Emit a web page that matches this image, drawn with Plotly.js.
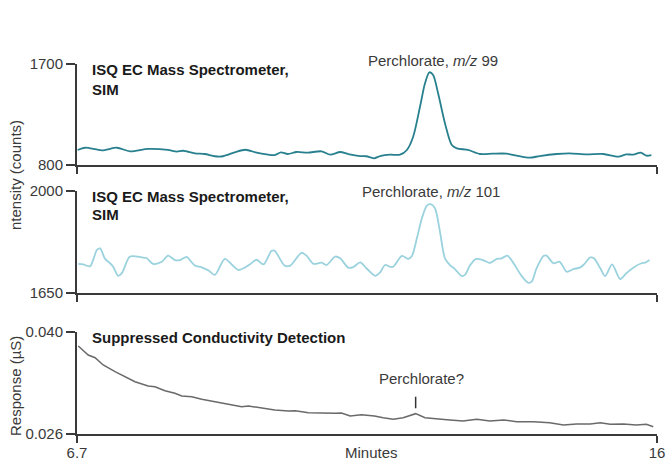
<!DOCTYPE html>
<html>
<head>
<meta charset="utf-8">
<script src="https://cdn.plot.ly/plotly-3.0.1.min.js"></script>
<style>html,body{margin:0;padding:0;background:#fff;}#chart{width:667px;height:461px;}</style>
</head>
<body>
<div id="chart"></div>
<script>
// ---- Data ----
const msTime99 = [6.71,6.83,7.10,7.34,7.55,7.84,8.16,8.30,8.40,8.59,8.75,8.91,9.04,9.23,9.40,9.58,9.74,9.87,9.97,10.08,10.22,10.40,10.62,10.76,10.92,11.05,11.24,11.34,11.46,11.56,11.72,11.88,11.99,12.09,12.20,12.28,12.35,12.41,12.49,12.60,12.71,12.79,12.97,13.16,13.37,13.59,13.75,13.96,14.12,14.39,14.60,14.87,15.14,15.38,15.51,15.62,15.74,15.83,15.91];
const msCounts99 = [934,954,931,954,922,943,934,919,927,904,898,878,878,913,936,910,895,889,913,898,916,910,922,892,916,898,880,878,860,880,892,892,934,1052,1319,1528,1626,1602,1439,1172,978,949,934,898,901,901,883,865,880,898,904,895,898,874,895,892,910,883,889];

const msTime101 = [6.72,6.80,6.91,7.02,7.07,7.15,7.23,7.28,7.36,7.42,7.55,7.74,7.82,7.92,8.06,8.16,8.27,8.35,8.46,8.51,8.59,8.70,8.81,8.91,9.07,9.18,9.29,9.39,9.47,9.58,9.69,9.82,9.87,10.03,10.12,10.30,10.38,10.49,10.62,10.70,10.84,10.92,11.05,11.13,11.24,11.34,11.48,11.56,11.64,11.72,11.77,11.91,12.01,12.07,12.15,12.23,12.31,12.37,12.44,12.52,12.60,12.68,12.76,12.87,12.92,13.00,13.10,13.21,13.32,13.43,13.51,13.60,13.70,13.83,13.94,13.99,14.07,14.18,14.23,14.34,14.44,14.55,14.66,14.76,14.82,14.93,14.99,15.09,15.17,15.28,15.41,15.51,15.62,15.75,15.81,15.88];
const msCounts101 = [1750,1748,1742,1798,1803,1767,1752,1740,1709,1718,1775,1772,1769,1750,1757,1778,1763,1763,1774,1763,1744,1738,1727,1712,1767,1748,1729,1737,1748,1764,1748,1795,1795,1744,1744,1788,1778,1750,1754,1746,1775,1769,1737,1739,1755,1735,1709,1721,1746,1740,1740,1777,1767,1777,1838,1906,1950,1955,1941,1860,1769,1746,1732,1708,1712,1744,1767,1763,1753,1767,1769,1778,1752,1708,1685,1689,1735,1777,1778,1752,1757,1723,1732,1737,1746,1772,1769,1735,1708,1748,1698,1718,1737,1752,1754,1763];

const cdTime = [6.72,6.88,6.99,7.12,7.31,7.47,7.63,7.84,7.95,8.11,8.27,8.38,8.54,8.70,8.91,9.13,9.34,9.45,9.66,9.87,10.09,10.20,10.41,10.62,10.84,10.94,11.08,11.26,11.47,11.61,11.77,11.93,12.13,12.28,12.47,12.68,12.89,13.11,13.32,13.54,13.75,14.02,14.28,14.50,14.71,14.93,15.09,15.25,15.46,15.67,15.83,15.94];
const cdResponse = [0.03808,0.03684,0.03647,0.03547,0.03455,0.03386,0.03318,0.03259,0.03249,0.03194,0.03159,0.03122,0.03112,0.03076,0.03043,0.03012,0.02975,0.02984,0.02953,0.02929,0.02916,0.02920,0.02892,0.02884,0.02884,0.02888,0.02847,0.02865,0.02847,0.02824,0.02802,0.02824,0.02879,0.02824,0.02806,0.02792,0.02778,0.02802,0.02778,0.02792,0.02769,0.02769,0.02755,0.02724,0.02737,0.02737,0.02755,0.02733,0.02737,0.02724,0.02733,0.02700];

const xRange = [6.7, 16];
const xTickVals = [6.7, 16];
const xTickText = ["6.7", "16"];
const y1Range = [800, 1700];
const y2Range = [1650, 2000];
const y3Range = [0.026, 0.040];
const y3TickText = ["0.026", "0.040"];
const markerTime = 12.13;              // "Perchlorate?" marker position
const markerSpan = [0.02953, 0.03112]; // marker line bottom / top

// ---- Styling ----
const FONT = "Liberation Sans, Arial, sans-serif";
const TXT = "#3a3a3a";
const AX = "#3a3a3a";

function xAxis(anchor, labels) {
  return {
    range: xRange, anchor: anchor, showline: true, linecolor: AX, linewidth: 2,
    ticks: "outside", ticklen: 7, tickwidth: 1.5, tickcolor: AX,
    tickvals: xTickVals, ticktext: xTickText, showticklabels: labels,
    ticklabelstandoff: -3,
    showgrid: false, zeroline: false, fixedrange: true,
    tickfont: {family: FONT, size: 15, color: TXT}
  };
}
function yAxis(anchor, domain, range, ticktext) {
  return {
    domain: domain, range: range, anchor: anchor, showline: true, linecolor: AX, linewidth: 2,
    ticks: "outside", ticklen: 9, tickwidth: 1.5, tickcolor: AX,
    tickvals: range, ticktext: ticktext || range.map(String),
    showgrid: false, zeroline: false, fixedrange: true,
    tickfont: {family: FONT, size: 15, color: TXT}
  };
}

const traces = [
  {x: msTime99, y: msCounts99, xaxis: "x", yaxis: "y", type: "scatter", mode: "lines",
   line: {color: "#28808f", width: 1.8, shape: "spline", smoothing: 0.8}, hoverinfo: "skip"},
  {x: msTime101, y: msCounts101, xaxis: "x2", yaxis: "y2", type: "scatter", mode: "lines",
   line: {color: "#9ad2de", width: 1.8, shape: "spline", smoothing: 0.8}, hoverinfo: "skip"},
  {x: cdTime, y: cdResponse, xaxis: "x3", yaxis: "y3", type: "scatter", mode: "lines",
   line: {color: "#6a6a6a", width: 1.5}, hoverinfo: "skip"}
];

// pixel helpers for text placement (plot area: left 77, top 64, 580 x 370)
const px = v => (v - 77) / 580;
const py = v => (434 - v) / 370;

function note(text, x, y, opts) {
  return Object.assign({
    text: text, xref: "paper", yref: "paper", x: px(x), y: py(y),
    xanchor: "left", yanchor: "middle", showarrow: false,
    font: {family: FONT, size: 15, color: "#1a1a1a"}
  }, opts || {});
}
const regular = {family: FONT, size: 15, color: TXT};

const annotations = [
  note("<b>ISQ EC Mass Spectrometer,</b>", 90, 70),
  note("<b>SIM</b>", 90, 90),
  note("<b>ISQ EC Mass Spectrometer,</b>", 90, 196),
  note("<b>SIM</b>", 90, 214),
  note("<b>Suppressed Conductivity Detection</b>", 90, 337),
  note("Perchlorate, <i>m/z</i> 99", 433, 60.5, {xanchor: "center", font: regular}),
  note("Perchlorate, <i>m/z</i> 101", 431, 191.5, {xanchor: "center", font: regular}),
  note("Perchlorate?", 421, 378.5, {xanchor: "center", font: regular}),
  note("Minutes", 371, 452, {xanchor: "center", font: regular}),
  note("ntensity (counts)", 15, 175, {xanchor: "center", textangle: -90, font: regular}),
  note("Response (µS)", 15, 386, {xanchor: "center", textangle: -90, font: regular})
];

const layout = {
  width: 667, height: 461,
  margin: {l: 77, r: 10, t: 64, b: 27, pad: 0},
  paper_bgcolor: "#fff", plot_bgcolor: "#fff",
  showlegend: false,
  xaxis: xAxis("y", false),
  xaxis2: xAxis("y2", false),
  xaxis3: xAxis("y3", true),
  yaxis: yAxis("x", [0.727, 1], y1Range),
  yaxis2: yAxis("x2", [0.3811, 0.6568], y2Range),
  yaxis3: yAxis("x3", [0, 0.2757], y3Range, y3TickText),
  annotations: annotations,
  shapes: [{type: "line", xref: "x3", yref: "y3", x0: markerTime, x1: markerTime,
            y0: markerSpan[0], y1: markerSpan[1], line: {color: "#333", width: 1.5}}]
};

Plotly.newPlot("chart", traces, layout, {displayModeBar: false, staticPlot: true});
</script>
</body>
</html>
